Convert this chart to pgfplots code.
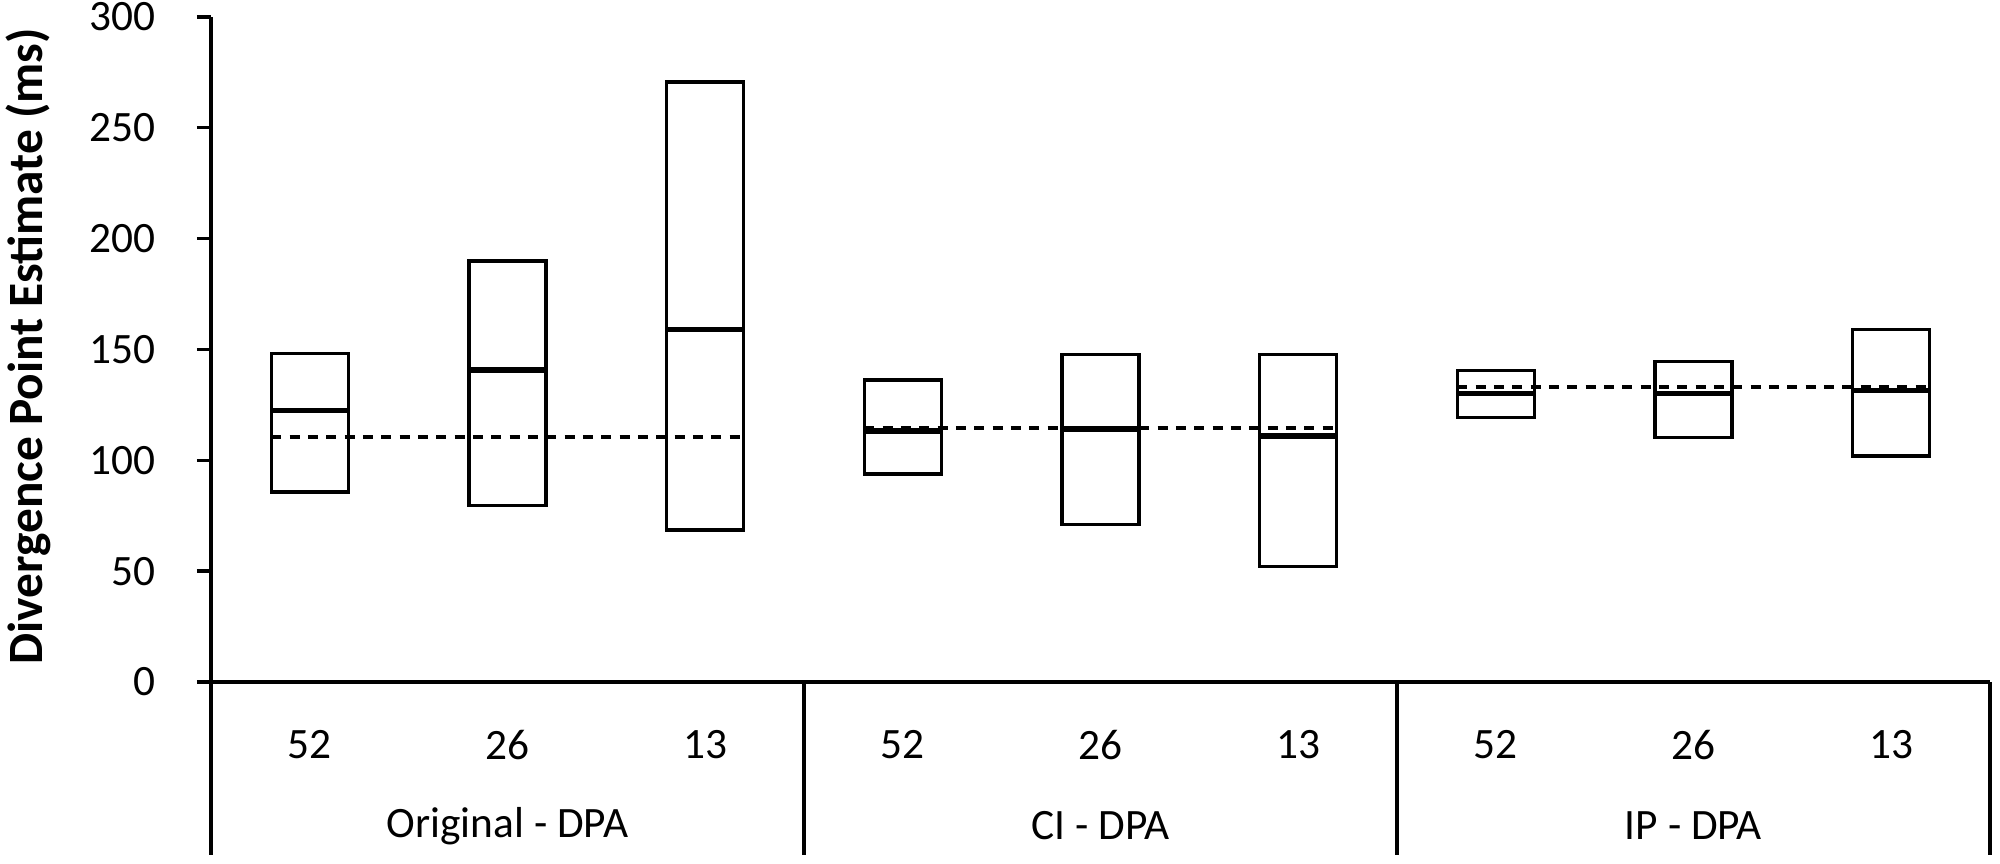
\documentclass[border=0pt]{standalone}
\usepackage{fontspec}
\setmainfont{Carlito}
\usepackage{pgfplots}
\pgfplotsset{compat=1.18}
\begin{document}
\begin{tikzpicture}
\def\fs{\fontsize{13}{16}\selectfont}
\begin{axis}[
  scale only axis,
  width=533.7pt, height=199.5pt,
  xmin=-0.5, xmax=8.5, ymin=0, ymax=300,
  axis lines*=left,
  axis line style={line width=1pt, black},
  ytick={0,50,...,300},
  xtick={0,...,8},
  xticklabels={52,26,13,52,26,13,52,26,13},
  x tick style={draw=none},
  y tick style={line width=1pt, black},
  major tick length=4.2pt,
  tick align=outside,
  /pgf/number format/assume math mode=true,
  ticklabel style={font=\fs},
  yticklabel style={xshift=-9pt},
  xticklabel style={yshift=-6.8pt},
  ylabel={\bfseries Divergence Point Estimate (ms)},
  ylabel style={font=\fontsize{14.8}{17}\selectfont, at={(axis description cs:-0.1027,0.505)}, anchor=center},
  clip=false,
  box/.style={black, line width=1pt, mark=none},
  med/.style={black, line width=1.6pt, mark=none},
  est/.style={black, line width=1.2pt, dash pattern=on 3pt off 2.5pt, mark=none},
]
% boxes: (x-0.195,low) (x+0.195,low) (x+0.195,high) (x-0.195,high)
% group 1: Original - DPA
\addplot[box] coordinates {(-0.195,85.7) (0.195,85.7) (0.195,148.2) (-0.195,148.2)} -- cycle;
\addplot[box] coordinates {(0.805,79.7) (1.195,79.7) (1.195,189.9) (0.805,189.9)} -- cycle;
\addplot[box] coordinates {(1.805,68.5) (2.195,68.5) (2.195,270.7) (1.805,270.7)} -- cycle;
% group 2: CI - DPA
\addplot[box] coordinates {(2.805,93.9) (3.195,93.9) (3.195,136.2) (2.805,136.2)} -- cycle;
\addplot[box] coordinates {(3.805,70.9) (4.195,70.9) (4.195,147.6) (3.805,147.6)} -- cycle;
\addplot[box] coordinates {(4.805,52) (5.195,52) (5.195,147.6) (4.805,147.6)} -- cycle;
% group 3: IP - DPA
\addplot[box] coordinates {(5.805,119.3) (6.195,119.3) (6.195,140.5) (5.805,140.5)} -- cycle;
\addplot[box] coordinates {(6.805,110.3) (7.195,110.3) (7.195,144.6) (6.805,144.6)} -- cycle;
\addplot[box] coordinates {(7.805,102) (8.195,102) (8.195,158.9) (7.805,158.9)} -- cycle;
% medians
\addplot[med] coordinates {(-0.195,122.4) (0.195,122.4)};
\addplot[med] coordinates {(0.805,140.7) (1.195,140.7)};
\addplot[med] coordinates {(1.805,159) (2.195,159)};
\addplot[med] coordinates {(2.805,113.3) (3.195,113.3)};
\addplot[med] coordinates {(3.805,114.2) (4.195,114.2)};
\addplot[med] coordinates {(4.805,111) (5.195,111)};
\addplot[med] coordinates {(5.805,130) (6.195,130)};
\addplot[med] coordinates {(6.805,130) (7.195,130)};
\addplot[med] coordinates {(7.805,131.4) (8.195,131.4)};
% overall estimates (dashed)
\addplot[est] coordinates {(-0.195,110.7) (2.195,110.7)};
\addplot[est] coordinates {(2.805,114.4) (5.195,114.4)};
\addplot[est] coordinates {(5.805,132.9) (8.195,132.9)};
% group separators and labels
\draw[line width=1pt] (axis cs:-0.5,0) -- ++(0pt,-51.9pt);
\draw[line width=1pt] (axis cs:2.5,0) -- ++(0pt,-51.9pt);
\draw[line width=1pt] (axis cs:5.5,0) -- ++(0pt,-51.9pt);
\draw[line width=1pt] (axis cs:8.5,0) -- ++(0pt,-51.9pt);
\node[font=\fs] at (axis cs:1,0) [yshift=-43.2pt] {Original - DPA};
\node[font=\fs] at (axis cs:4,0) [yshift=-43.2pt] {CI - DPA};
\node[font=\fs] at (axis cs:7,0) [yshift=-43.2pt] {IP - DPA};
\end{axis}
\pgfresetboundingbox
\path (-63.3pt,-54.6pt) rectangle (536.7pt,204.6pt);
\end{tikzpicture}
\end{document}
